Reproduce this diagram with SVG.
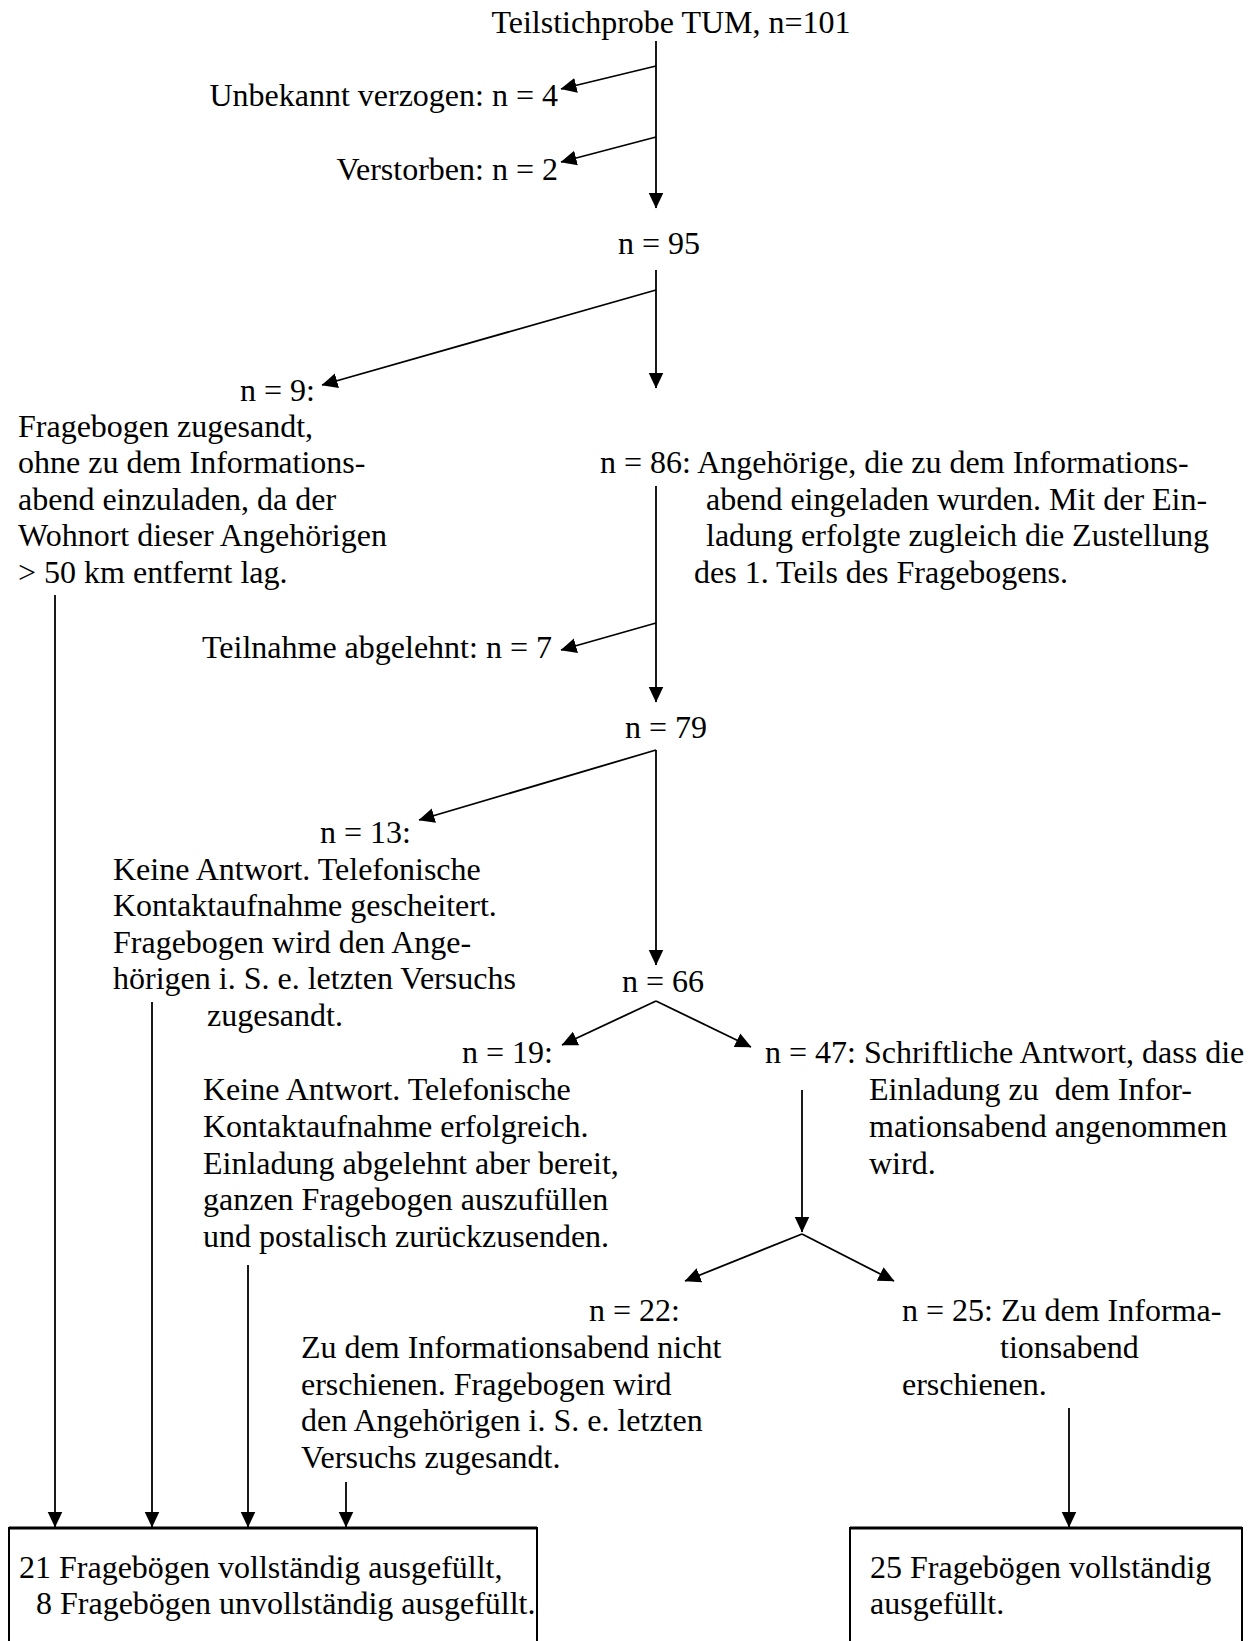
<svg xmlns="http://www.w3.org/2000/svg" width="1254" height="1641" viewBox="0 0 1254 1641">
<defs>
<marker id="ah" markerUnits="userSpaceOnUse" markerWidth="16" markerHeight="16" viewBox="0 0 16 16" refX="15.5" refY="8" orient="auto">
<path d="M0,0.5 L16,8 L0,15.5 Z" fill="#000"/>
</marker>
<style>
text{font-family:"Liberation Serif","Times New Roman",serif;font-size:32px;fill:#000;white-space:pre}
.c{stroke:#000;stroke-width:1.8;fill:none}
.a{marker-end:url(#ah)}
.box{stroke:#000;stroke-width:2;fill:none}
.top{stroke:#000;stroke-width:3}
.e{text-anchor:end}
.m{text-anchor:middle}
</style>
</defs>
<rect width="1254" height="1641" fill="#fff"/>

<g id="connectors">
<path class="c a" d="M656,41 V208"/>
<path class="c a" d="M656,66 L561,89"/>
<path class="c a" d="M656,137 L561,162"/>
<path class="c a" d="M656,270 V388"/>
<path class="c a" d="M656,290 L322,385"/>
<path class="c a" d="M656,486 V702"/>
<path class="c a" d="M656,623 L561,650"/>
<path class="c a" d="M656,750 V965"/>
<path class="c a" d="M656,750 L419,820"/>
<path class="c a" d="M656,1001 L562,1045"/>
<path class="c a" d="M656,1001 L751,1047"/>
<path class="c a" d="M802,1090 V1232"/>
<path class="c a" d="M802,1234 L685,1281"/>
<path class="c a" d="M802,1234 L894,1281"/>
<path class="c a" d="M55,595 V1527"/>
<path class="c a" d="M152,1002 V1527"/>
<path class="c a" d="M248,1265 V1527"/>
<path class="c a" d="M346,1482 V1527"/>
<path class="c a" d="M1069,1408 V1527"/>
</g>

<g id="n101"><text class="m" x="671" y="33">Teilstichprobe TUM, n=101</text></g>
<g id="unbekannt"><text class="e" x="558" y="106">Unbekannt verzogen: n = 4</text></g>
<g id="verstorben"><text class="e" x="558" y="180">Verstorben: n = 2</text></g>
<g id="n95"><text x="618" y="254">n = 95</text></g>

<g id="n9">
<text x="240" y="401">n = 9:</text>
<text x="18" y="436.5">Fragebogen zugesandt,</text>
<text x="18" y="473">ohne zu dem Informations-</text>
<text x="18" y="509.5">abend einzuladen, da der</text>
<text x="18" y="546">Wohnort dieser Angehörigen</text>
<text x="18" y="582.5">&gt; 50 km entfernt lag.</text>
</g>

<g id="n86">
<text x="600" y="473">n = 86: Angehörige, die zu dem Informations-</text>
<text x="706" y="509.5">abend eingeladen wurden. Mit der Ein-</text>
<text x="706" y="546">ladung erfolgte zugleich die Zustellung</text>
<text x="694" y="582.5">des 1. Teils des Fragebogens.</text>
</g>

<g id="teilnahme"><text x="202" y="658">Teilnahme abgelehnt: n = 7</text></g>
<g id="n79"><text x="625" y="738">n = 79</text></g>

<g id="n13">
<text x="320" y="843">n = 13:</text>
<text x="113" y="879.5">Keine Antwort. Telefonische</text>
<text x="113" y="916">Kontaktaufnahme gescheitert.</text>
<text x="113" y="952.5">Fragebogen wird den Ange-</text>
<text x="113" y="989">hörigen i. S. e. letzten Versuchs</text>
<text x="207" y="1025.5">zugesandt.</text>
</g>

<g id="n66"><text x="622" y="992">n = 66</text></g>

<g id="n19">
<text x="462" y="1063">n = 19:</text>
<text x="203" y="1100">Keine Antwort. Telefonische</text>
<text x="203" y="1137">Kontaktaufnahme erfolgreich.</text>
<text x="203" y="1174">Einladung abgelehnt aber bereit,</text>
<text x="203" y="1210">ganzen Fragebogen auszufüllen</text>
<text x="203" y="1247">und postalisch zurückzusenden.</text>
</g>

<g id="n47">
<text x="765" y="1063">n = 47: Schriftliche Antwort, dass die</text>
<text x="869" y="1100">Einladung zu  dem Infor-</text>
<text x="869" y="1137">mationsabend angenommen</text>
<text x="869" y="1174">wird.</text>
</g>

<g id="n22">
<text x="589" y="1321">n = 22:</text>
<text x="301" y="1358">Zu dem Informationsabend nicht</text>
<text x="301" y="1394.5">erschienen. Fragebogen wird</text>
<text x="301" y="1431">den Angehörigen i. S. e. letzten</text>
<text x="301" y="1467.5">Versuchs zugesandt.</text>
</g>

<g id="n25">
<text x="902" y="1321">n = 25: Zu dem Informa-</text>
<text x="1000" y="1358">tionsabend</text>
<text x="902" y="1394.5">erschienen.</text>
</g>

<g id="box1">
<path class="box" d="M9,1660 V1528 H537 V1660"/>
<path class="top" d="M9,1528 H537"/>
<text x="19" y="1578">21 Fragebögen vollständig ausgefüllt,</text>
<text x="36" y="1614">8 Fragebögen unvollständig ausgefüllt.</text>
</g>

<g id="box2">
<path class="box" d="M850,1660 V1528 H1242 V1660"/>
<path class="top" d="M850,1528 H1242"/>
<text x="870" y="1578">25 Fragebögen vollständig</text>
<text x="870" y="1614">ausgefüllt.</text>
</g>
</svg>
